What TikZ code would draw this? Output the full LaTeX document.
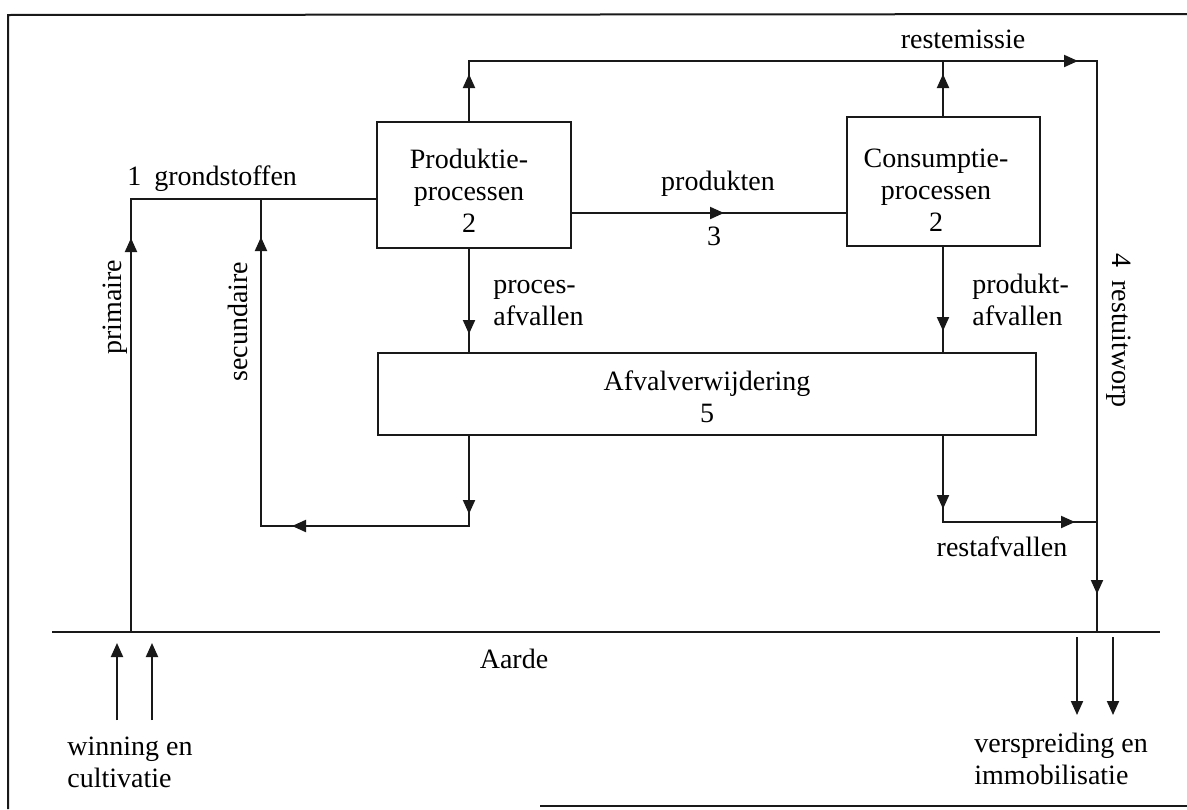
\documentclass[tikz,border=0pt]{standalone}
\usepackage{fontspec}
\setmainfont{Liberation Serif}
\usetikzlibrary{arrows.meta,decorations.markings}
\newcommand{\tst}{\rule{0pt}{10pt}}
\tikzset{
  Tri/.tip={Triangle[length=7pt,width=6pt]},
  ln/.style={line width=1pt, draw=black!90},
  boxnode/.style={draw=black!90, line width=1pt, inner sep=0pt},
  lbl/.style={inner sep=0pt, font=\fontsize{14}{16}\selectfont, text=black},
}
\begin{document}
\begin{tikzpicture}[x=0.5pt,y=-0.5pt]
\useasboundingbox (0,0) rectangle (1187,809);
% frame
\coordinate (fTR) at (1187,14);
\coordinate (fTL) at (8,15);
\coordinate (fBL) at (8,809);
\coordinate (fB1) at (540,806);
\coordinate (fB2) at (1187,806);
\draw[ln] (fTR) -- (fTL) -- (fBL);
\draw[ln] (fB1) -- (fB2);

% boxes
\node[boxnode, minimum width=97pt, minimum height=63pt] (prod) at (474,185) {};
\node[boxnode, minimum width=96.5pt, minimum height=64.5pt] (cons) at (943.5,181.5) {};
\node[boxnode, minimum width=329pt, minimum height=41pt] (afval) at (707,394) {};

% box texts
\node[lbl, anchor=north, align=center] (tProd) at (469,148) {\tst Produktie-\\processen\\2};
\node[lbl, anchor=north, align=center] (tCons) at (936,147) {\tst Consumptie-\\processen\\2};
\node[lbl, anchor=north, align=center] (tAfval) at (707,370) {\tst Afvalverwijdering\\5};

% helper coordinates
\coordinate (colPrim) at (131,0);
\coordinate (colS) at (261,0);
\coordinate (colP) at (469,0);
\coordinate (colC) at (943,0);
\coordinate (colR) at (1097,0);
\coordinate (gy) at (0,199);
\coordinate (py) at (0,213);
\coordinate (ty) at (0,61);
\coordinate (ry) at (0,526);
\coordinate (ray) at (0,522);
\coordinate (earthL) at (52,632);
\coordinate (earthR) at (1160,632);

% earth line
\draw[ln] (earthL) -- (earthR);

% primaire / grondstoffen
\draw[ln, postaction={decorate}, decoration={markings,
   mark=at position 197pt with {\arrow{Tri}}}]
  (colPrim |- earthL) -- (colPrim |- gy) -- (prod.west |- gy);

% secundaire loop
\draw[ln, postaction={decorate}, decoration={markings,
   mark=at position 39pt with {\arrow{Tri}},
   mark=at position 133.5pt with {\arrow{Tri}},
   mark=at position 293.5pt with {\arrow{Tri}}}]
  (colP |- afval.south) -- (colP |- ry) -- (colS |- ry) -- (colS |- gy);

% produkten
\draw[ln, postaction={decorate}, decoration={markings,
   mark=at position 76pt with {\arrow{Tri}}}]
  (prod.east |- py) -- (cons.west |- py);

% proces-afvallen
\draw[ln, postaction={decorate}, decoration={markings,
   mark=at position 42.5pt with {\arrow{Tri}}}]
  (colP |- prod.south) -- (colP |- afval.north);

% produkt-afvallen
\draw[ln, postaction={decorate}, decoration={markings,
   mark=at position 42pt with {\arrow{Tri}}}]
  (colC |- cons.south) -- (colC |- afval.north);

% restafvallen
\draw[ln, postaction={decorate}, decoration={markings,
   mark=at position 36.5pt with {\arrow{Tri}},
   mark=at position 109pt with {\arrow{Tri}}}]
  (colC |- afval.south) -- (colC |- ray) -- (colR |- ray);

% restemissie / restuitworp
\draw[ln, postaction={decorate}, decoration={markings,
   mark=at position 23.5pt with {\arrow{Tri}},
   mark=at position 334.5pt with {\arrow{Tri}},
   mark=at position 610.5pt with {\arrow{Tri}}}]
  (colP |- prod.north) -- (colP |- ty) -- (colR |- ty) -- (colR |- earthL);
\draw[ln, postaction={decorate}, decoration={markings,
   mark=at position 21pt with {\arrow{Tri}}}]
  (colC |- cons.north) -- (colC |- ty);

% winning arrows
\coordinate (w1a) at (117,720); \coordinate (w1b) at (117,643);
\coordinate (w2a) at (152,720); \coordinate (w2b) at (152,643);
\draw[ln, -{Tri}] (w1a) -- (w1b);
\draw[ln, -{Tri}] (w2a) -- (w2b);
% verspreiding arrows
\coordinate (v1a) at (1077,637); \coordinate (v1b) at (1077,715);
\coordinate (v2a) at (1113,637); \coordinate (v2b) at (1113,715);
\draw[ln, -{Tri}] (v1a) -- (v1b);
\draw[ln, -{Tri}] (v2a) -- (v2b);

% labels
\node[lbl, anchor=base] (tRestem) at (963,48) {restemissie};
\node[lbl, anchor=base west] (tGrond) at (127,185) {1\hspace{6.5pt}grondstoffen};
\node[lbl, anchor=base] (tProdukten) at (718,190) {produkten};
\node[lbl, anchor=base] (tThree) at (714,245) {3};
\node[lbl, anchor=north west, align=left] (tProces) at (493,273) {\tst proces-\\afvallen};
\node[lbl, anchor=north west, align=left] (tProdukt) at (972,273) {\tst produkt-\\afvallen};
\node[lbl, anchor=base] (tRestaf) at (1002,556) {restafvallen};
\node[lbl, anchor=base] (tAarde) at (514,668) {Aarde};
\node[lbl, anchor=north west, align=left] (tWinning) at (67,735) {\tst winning en\\cultivatie};
\node[lbl, anchor=north west, align=left] (tVersp) at (974,732) {\tst verspreiding en\\immobilisatie};
\node[lbl, rotate=90, anchor=base west] (tPrim) at (121,355) {primaire};
\node[lbl, rotate=90, anchor=base west] (tSec) at (247,382) {secundaire};
\node[lbl, rotate=-90, anchor=base west] (tRest) at (1112,253) {4\hspace{6.5pt}restuitworp};
\end{tikzpicture}
\end{document}
